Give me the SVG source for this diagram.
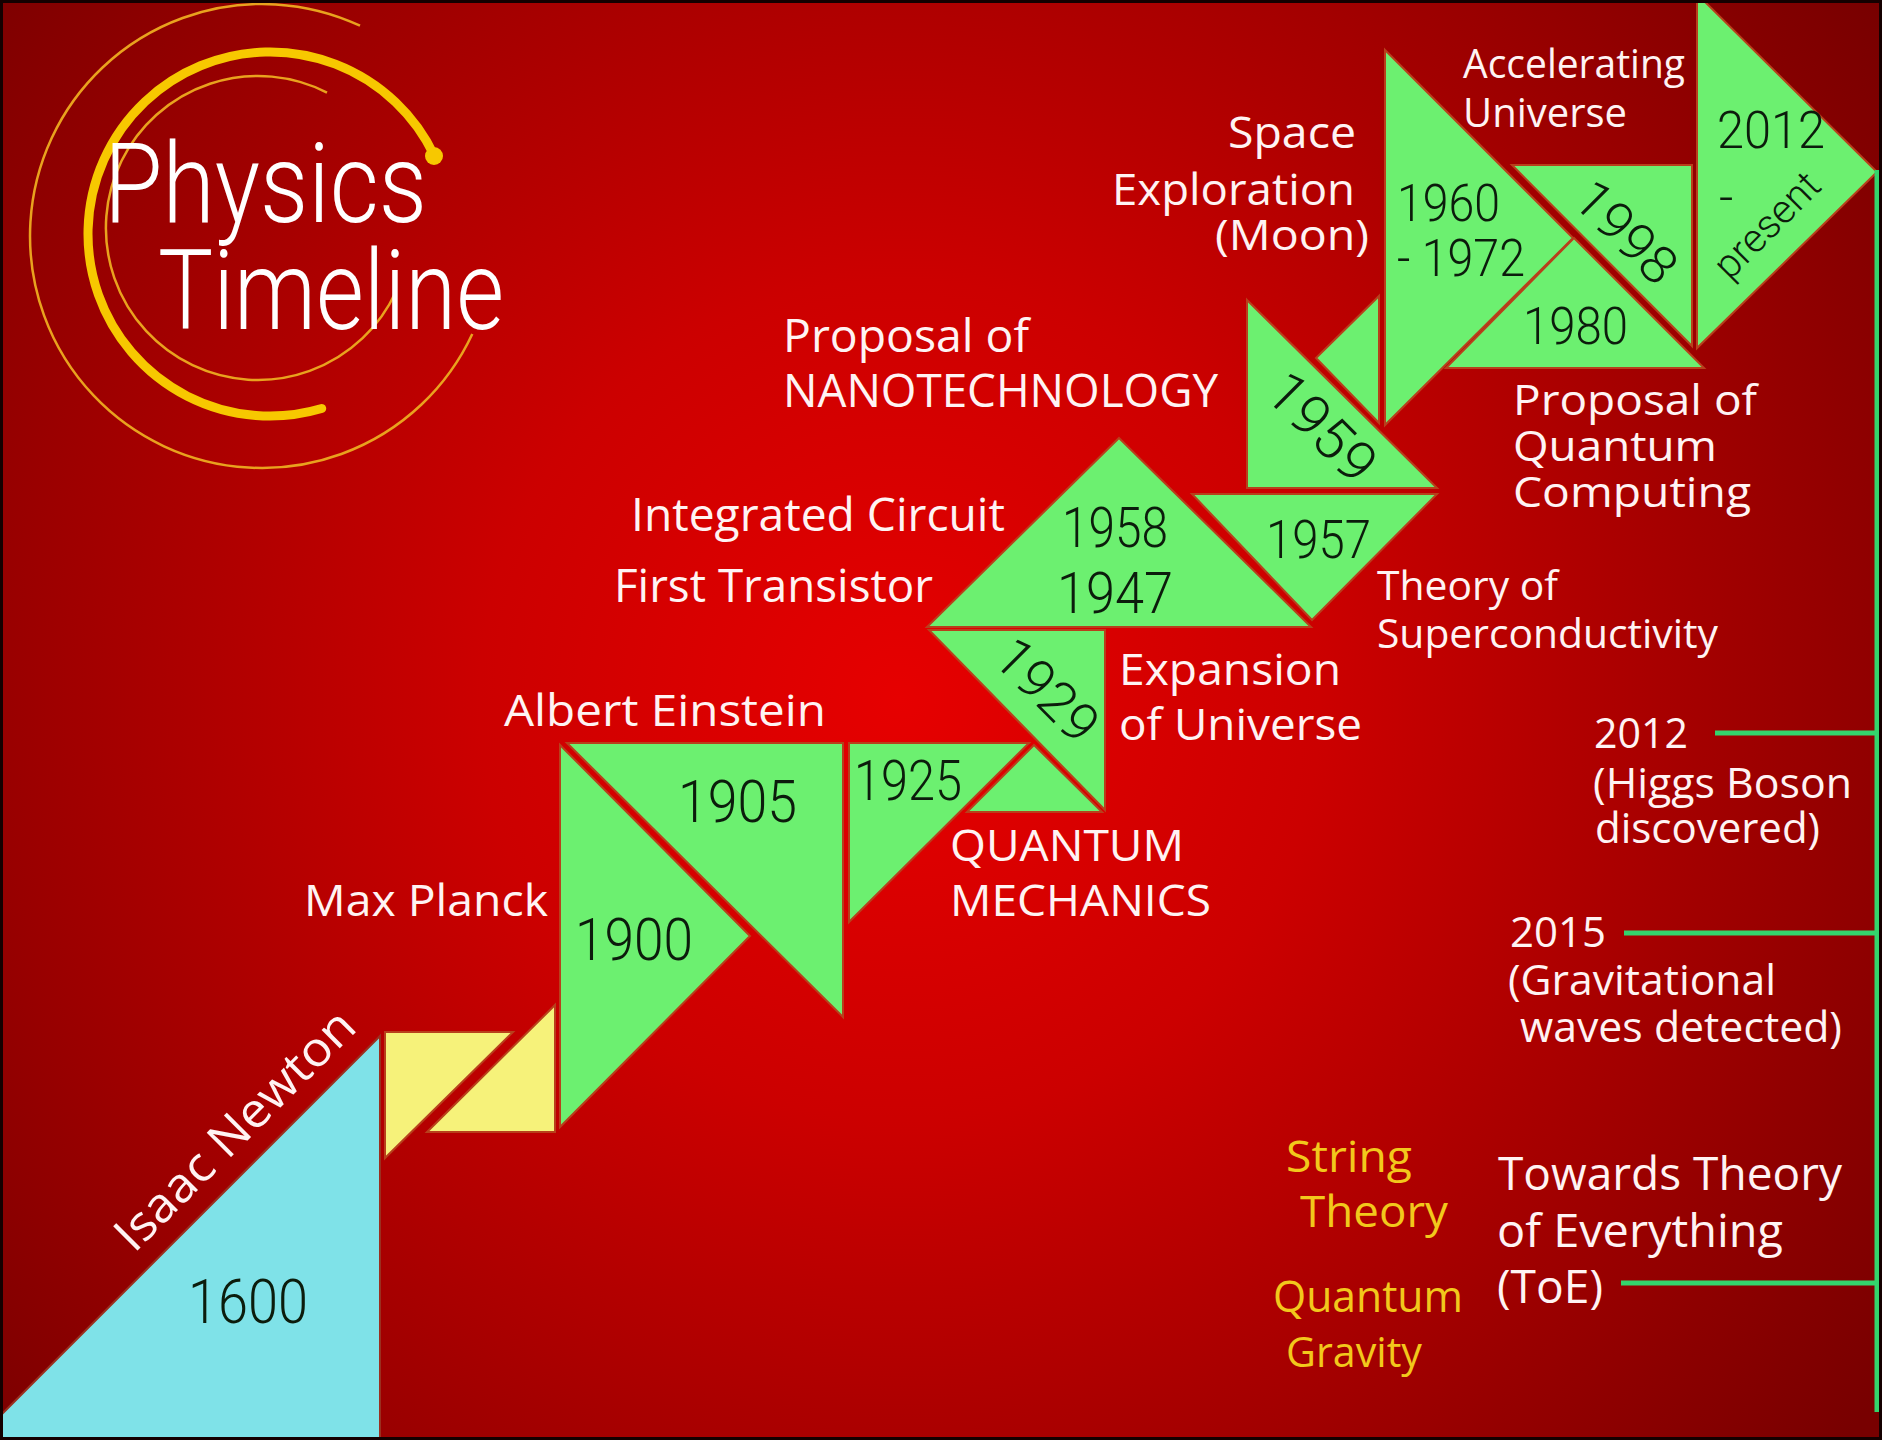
<svg xmlns="http://www.w3.org/2000/svg" width="1882" height="1440" viewBox="0 0 1882 1440">
<defs>
<radialGradient id="bg" gradientUnits="userSpaceOnUse" cx="900" cy="700" r="1200">
<stop offset="0" stop-color="#e60000"/>
<stop offset="0.35" stop-color="#cc0000"/>
<stop offset="0.75" stop-color="#990000"/>
<stop offset="1" stop-color="#780000"/>
</radialGradient>
<style>
.g{fill:#6cf070;stroke:#b8401c;stroke-width:2;stroke-linejoin:miter}
.y{fill:#f6f27a;stroke:#b8401c;stroke-width:2}
.c{fill:#7fe2e8;stroke:#9a3020;stroke-width:2}
.lbl{font-family:"Open Sans","Liberation Sans",sans-serif;fill:#fff3f3}
.yl{font-family:"Open Sans","Liberation Sans",sans-serif;fill:#f2c81c}
.num{font-family:Roboto,"Liberation Sans",sans-serif;font-weight:300;fill:#0c1c0c}
.ttl{font-family:Roboto,"Liberation Sans",sans-serif;font-weight:300;fill:#ffffff}
.ln{stroke:#34d46c;stroke-width:5;fill:none}
</style>
</defs>
<rect x="0" y="0" width="1882" height="1440" fill="url(#bg)"/>

<g id="title">
<path d="M360,25.7 A232,232 0 1 0 472.3,334" fill="none" stroke="#e9a21e" stroke-width="2.5"/>
<path d="M327,92.6 A152,152 0 1 0 396,291.5" fill="none" stroke="#e9a21e" stroke-width="2.5"/>
<path d="M434.4,155.9 A182,182 0 1 0 321.7,408.5" fill="none" stroke="#f7c800" stroke-width="9" stroke-linecap="round"/>
<circle cx="434" cy="156" r="9" fill="#f7c800"/>
<text class="ttl" x="104" y="222" font-size="112" textLength="323" lengthAdjust="spacingAndGlyphs">Physics</text>
<text class="ttl" x="158" y="329" font-size="112" textLength="346" lengthAdjust="spacingAndGlyphs">Timeline</text>
</g>

<g id="node-1600">
<polygon class="c" points="0,1416 380,1036 380,1442 0,1442"/>
<text class="num" x="188" y="1323" font-size="62" textLength="120" lengthAdjust="spacingAndGlyphs">1600</text>
<text class="lbl" font-size="48" transform="translate(134,1254) rotate(-45)" textLength="318" lengthAdjust="spacingAndGlyphs">Isaac Newton</text>
</g>

<g id="node-yellow">
<polygon class="y" points="385,1032 513,1032 385,1158"/>
<polygon class="y" points="555,1005 555,1132 427,1132"/>
</g>

<g id="node-1900">
<polygon class="g" points="560,745 560,1127 750,936"/>
<text class="num" x="575" y="960" font-size="59" textLength="118" lengthAdjust="spacingAndGlyphs">1900</text>
<text class="lbl" x="304" y="916" font-size="44" textLength="244" lengthAdjust="spacingAndGlyphs">Max Planck</text>
</g>

<g id="node-1905">
<polygon class="g" points="567,743 843,743 843,1017"/>
<text class="num" x="678" y="822" font-size="59" textLength="119" lengthAdjust="spacingAndGlyphs">1905</text>
<text class="lbl" x="504" y="726" font-size="44" textLength="322" lengthAdjust="spacingAndGlyphs">Albert Einstein</text>
</g>

<g id="node-1925">
<polygon class="g" points="849,743 1029,743 849,922"/>
<text class="num" x="854" y="800" font-size="56" textLength="108" lengthAdjust="spacingAndGlyphs">1925</text>
<text class="lbl" x="950" y="861" font-size="44" textLength="234" lengthAdjust="spacingAndGlyphs">QUANTUM</text>
<text class="lbl" x="950" y="916" font-size="44" textLength="261" lengthAdjust="spacingAndGlyphs">MECHANICS</text>
</g>

<g id="node-1929">
<polygon class="g" points="929,630 1105,630 1105,810"/>
<polygon class="g" points="1034,745 1102,812 967,812"/>
<text class="num" font-size="54" text-anchor="middle" dy="0.35em" transform="translate(1047,690) rotate(45)" textLength="122" lengthAdjust="spacingAndGlyphs">1929</text>
<text class="lbl" x="1119" y="685" font-size="44" textLength="222" lengthAdjust="spacingAndGlyphs">Expansion</text>
<text class="lbl" x="1119" y="740" font-size="44" textLength="243" lengthAdjust="spacingAndGlyphs">of Universe</text>
</g>

<g id="node-1947">
<polygon class="g" points="1119,438 1311,627 927,627"/>
<text class="num" x="1062" y="547" font-size="55" textLength="106" lengthAdjust="spacingAndGlyphs">1958</text>
<text class="num" x="1057" y="613" font-size="58" textLength="116" lengthAdjust="spacingAndGlyphs">1947</text>
<text class="lbl" x="631" y="531" font-size="46" textLength="374" lengthAdjust="spacingAndGlyphs">Integrated Circuit</text>
<text class="lbl" x="614" y="602" font-size="46" textLength="319" lengthAdjust="spacingAndGlyphs">First Transistor</text>
</g>

<g id="node-1957">
<polygon class="g" points="1192,494 1437,494 1312,620"/>
<text class="num" x="1266" y="558" font-size="54" textLength="105" lengthAdjust="spacingAndGlyphs">1957</text>
<text class="lbl" x="1377" y="600" font-size="41" textLength="181" lengthAdjust="spacingAndGlyphs">Theory of</text>
<text class="lbl" x="1377" y="648" font-size="41" textLength="341" lengthAdjust="spacingAndGlyphs">Superconductivity</text>
</g>

<g id="node-1959">
<polygon class="g" points="1247,300 1437,488 1247,488"/>
<polygon class="g" points="1379,296 1379,423 1316,358"/>
<text class="num" font-size="56" text-anchor="middle" dy="0.35em" transform="translate(1322,427) rotate(45)" textLength="130" lengthAdjust="spacingAndGlyphs">1959</text>
<text class="lbl" x="783" y="352" font-size="46" textLength="246" lengthAdjust="spacingAndGlyphs">Proposal of</text>
<text class="lbl" x="783" y="407" font-size="46" textLength="435" lengthAdjust="spacingAndGlyphs">NANOTECHNOLOGY</text>
</g>

<g id="node-1960">
<polygon class="g" points="1385,50 1573,238 1385,425"/>
<text class="num" x="1397" y="221" font-size="52" textLength="103" lengthAdjust="spacingAndGlyphs">1960</text>
<text class="num" x="1397" y="276" font-size="52" textLength="128" lengthAdjust="spacingAndGlyphs">- 1972</text>
<text class="lbl" x="1356" y="148" font-size="44" text-anchor="end" textLength="128" lengthAdjust="spacingAndGlyphs">Space</text>
<text class="lbl" x="1355" y="205" font-size="44" text-anchor="end" textLength="243" lengthAdjust="spacingAndGlyphs">Exploration</text>
<text class="lbl" x="1369" y="250" font-size="42" text-anchor="end" textLength="154" lengthAdjust="spacingAndGlyphs">(Moon)</text>
</g>

<g id="node-1980">
<polygon class="g" points="1574,238 1704,368 1446,368"/>
<text class="num" x="1523" y="344" font-size="52" textLength="105" lengthAdjust="spacingAndGlyphs">1980</text>
<text class="lbl" x="1513" y="415" font-size="42" textLength="244" lengthAdjust="spacingAndGlyphs">Proposal of</text>
<text class="lbl" x="1513" y="461" font-size="42" textLength="204" lengthAdjust="spacingAndGlyphs">Quantum</text>
<text class="lbl" x="1513" y="507" font-size="42" textLength="238" lengthAdjust="spacingAndGlyphs">Computing</text>
</g>

<g id="node-1998">
<polygon class="g" points="1512,165 1692,165 1692,346"/>
<text class="num" font-size="52" text-anchor="middle" dy="0.35em" transform="translate(1626,232) rotate(45)" textLength="122" lengthAdjust="spacingAndGlyphs">1998</text>
<text class="lbl" x="1463" y="78" font-size="40" textLength="222" lengthAdjust="spacingAndGlyphs">Accelerating</text>
<text class="lbl" x="1463" y="127" font-size="40" textLength="164" lengthAdjust="spacingAndGlyphs">Universe</text>
</g>

<g id="node-2012">
<polygon class="g" points="1697,-6 1877,172 1697,348"/>
<text class="num" x="1717" y="148" font-size="52" textLength="108" lengthAdjust="spacingAndGlyphs">2012</text>
<text class="num" x="1719" y="214" font-size="50">-</text>
<text class="num" font-size="40" text-anchor="middle" dy="0.3em" transform="translate(1768,226) rotate(-45)" textLength="132" lengthAdjust="spacingAndGlyphs">present</text>
</g>

<g id="connectors">
<line class="ln" x1="1877" y1="170" x2="1877" y2="1412"/>
<line class="ln" x1="1715" y1="733" x2="1877" y2="733"/>
<line class="ln" x1="1624" y1="933" x2="1877" y2="933"/>
<line class="ln" x1="1621" y1="1283" x2="1877" y2="1283"/>
</g>

<g id="node-higgs">
<text class="lbl" x="1594" y="748" font-size="42" textLength="94" lengthAdjust="spacingAndGlyphs">2012</text>
<text class="lbl" x="1593" y="798" font-size="42" textLength="259" lengthAdjust="spacingAndGlyphs">(Higgs Boson</text>
<text class="lbl" x="1595" y="843" font-size="42" textLength="225" lengthAdjust="spacingAndGlyphs">discovered)</text>
</g>

<g id="node-gw">
<text class="lbl" x="1510" y="947" font-size="42" textLength="96" lengthAdjust="spacingAndGlyphs">2015</text>
<text class="lbl" x="1508" y="995" font-size="42" textLength="268" lengthAdjust="spacingAndGlyphs">(Gravitational</text>
<text class="lbl" x="1520" y="1042" font-size="42" textLength="322" lengthAdjust="spacingAndGlyphs">waves detected)</text>
</g>

<g id="node-toe">
<text class="lbl" x="1498" y="1190" font-size="46" textLength="344" lengthAdjust="spacingAndGlyphs">Towards Theory</text>
<text class="lbl" x="1497" y="1247" font-size="46" textLength="286" lengthAdjust="spacingAndGlyphs">of Everything</text>
<text class="lbl" x="1497" y="1303" font-size="46" textLength="106" lengthAdjust="spacingAndGlyphs">(ToE)</text>
<text class="yl" x="1286" y="1172" font-size="44" textLength="126" lengthAdjust="spacingAndGlyphs">String</text>
<text class="yl" x="1300" y="1227" font-size="44" textLength="148" lengthAdjust="spacingAndGlyphs">Theory</text>
<text class="yl" x="1273" y="1312" font-size="43" textLength="190" lengthAdjust="spacingAndGlyphs">Quantum</text>
<text class="yl" x="1286" y="1367" font-size="42" textLength="136" lengthAdjust="spacingAndGlyphs">Gravity</text>
</g>

<rect x="1.5" y="1.5" width="1879" height="1437" fill="none" stroke="#140000" stroke-width="3"/>
</svg>
